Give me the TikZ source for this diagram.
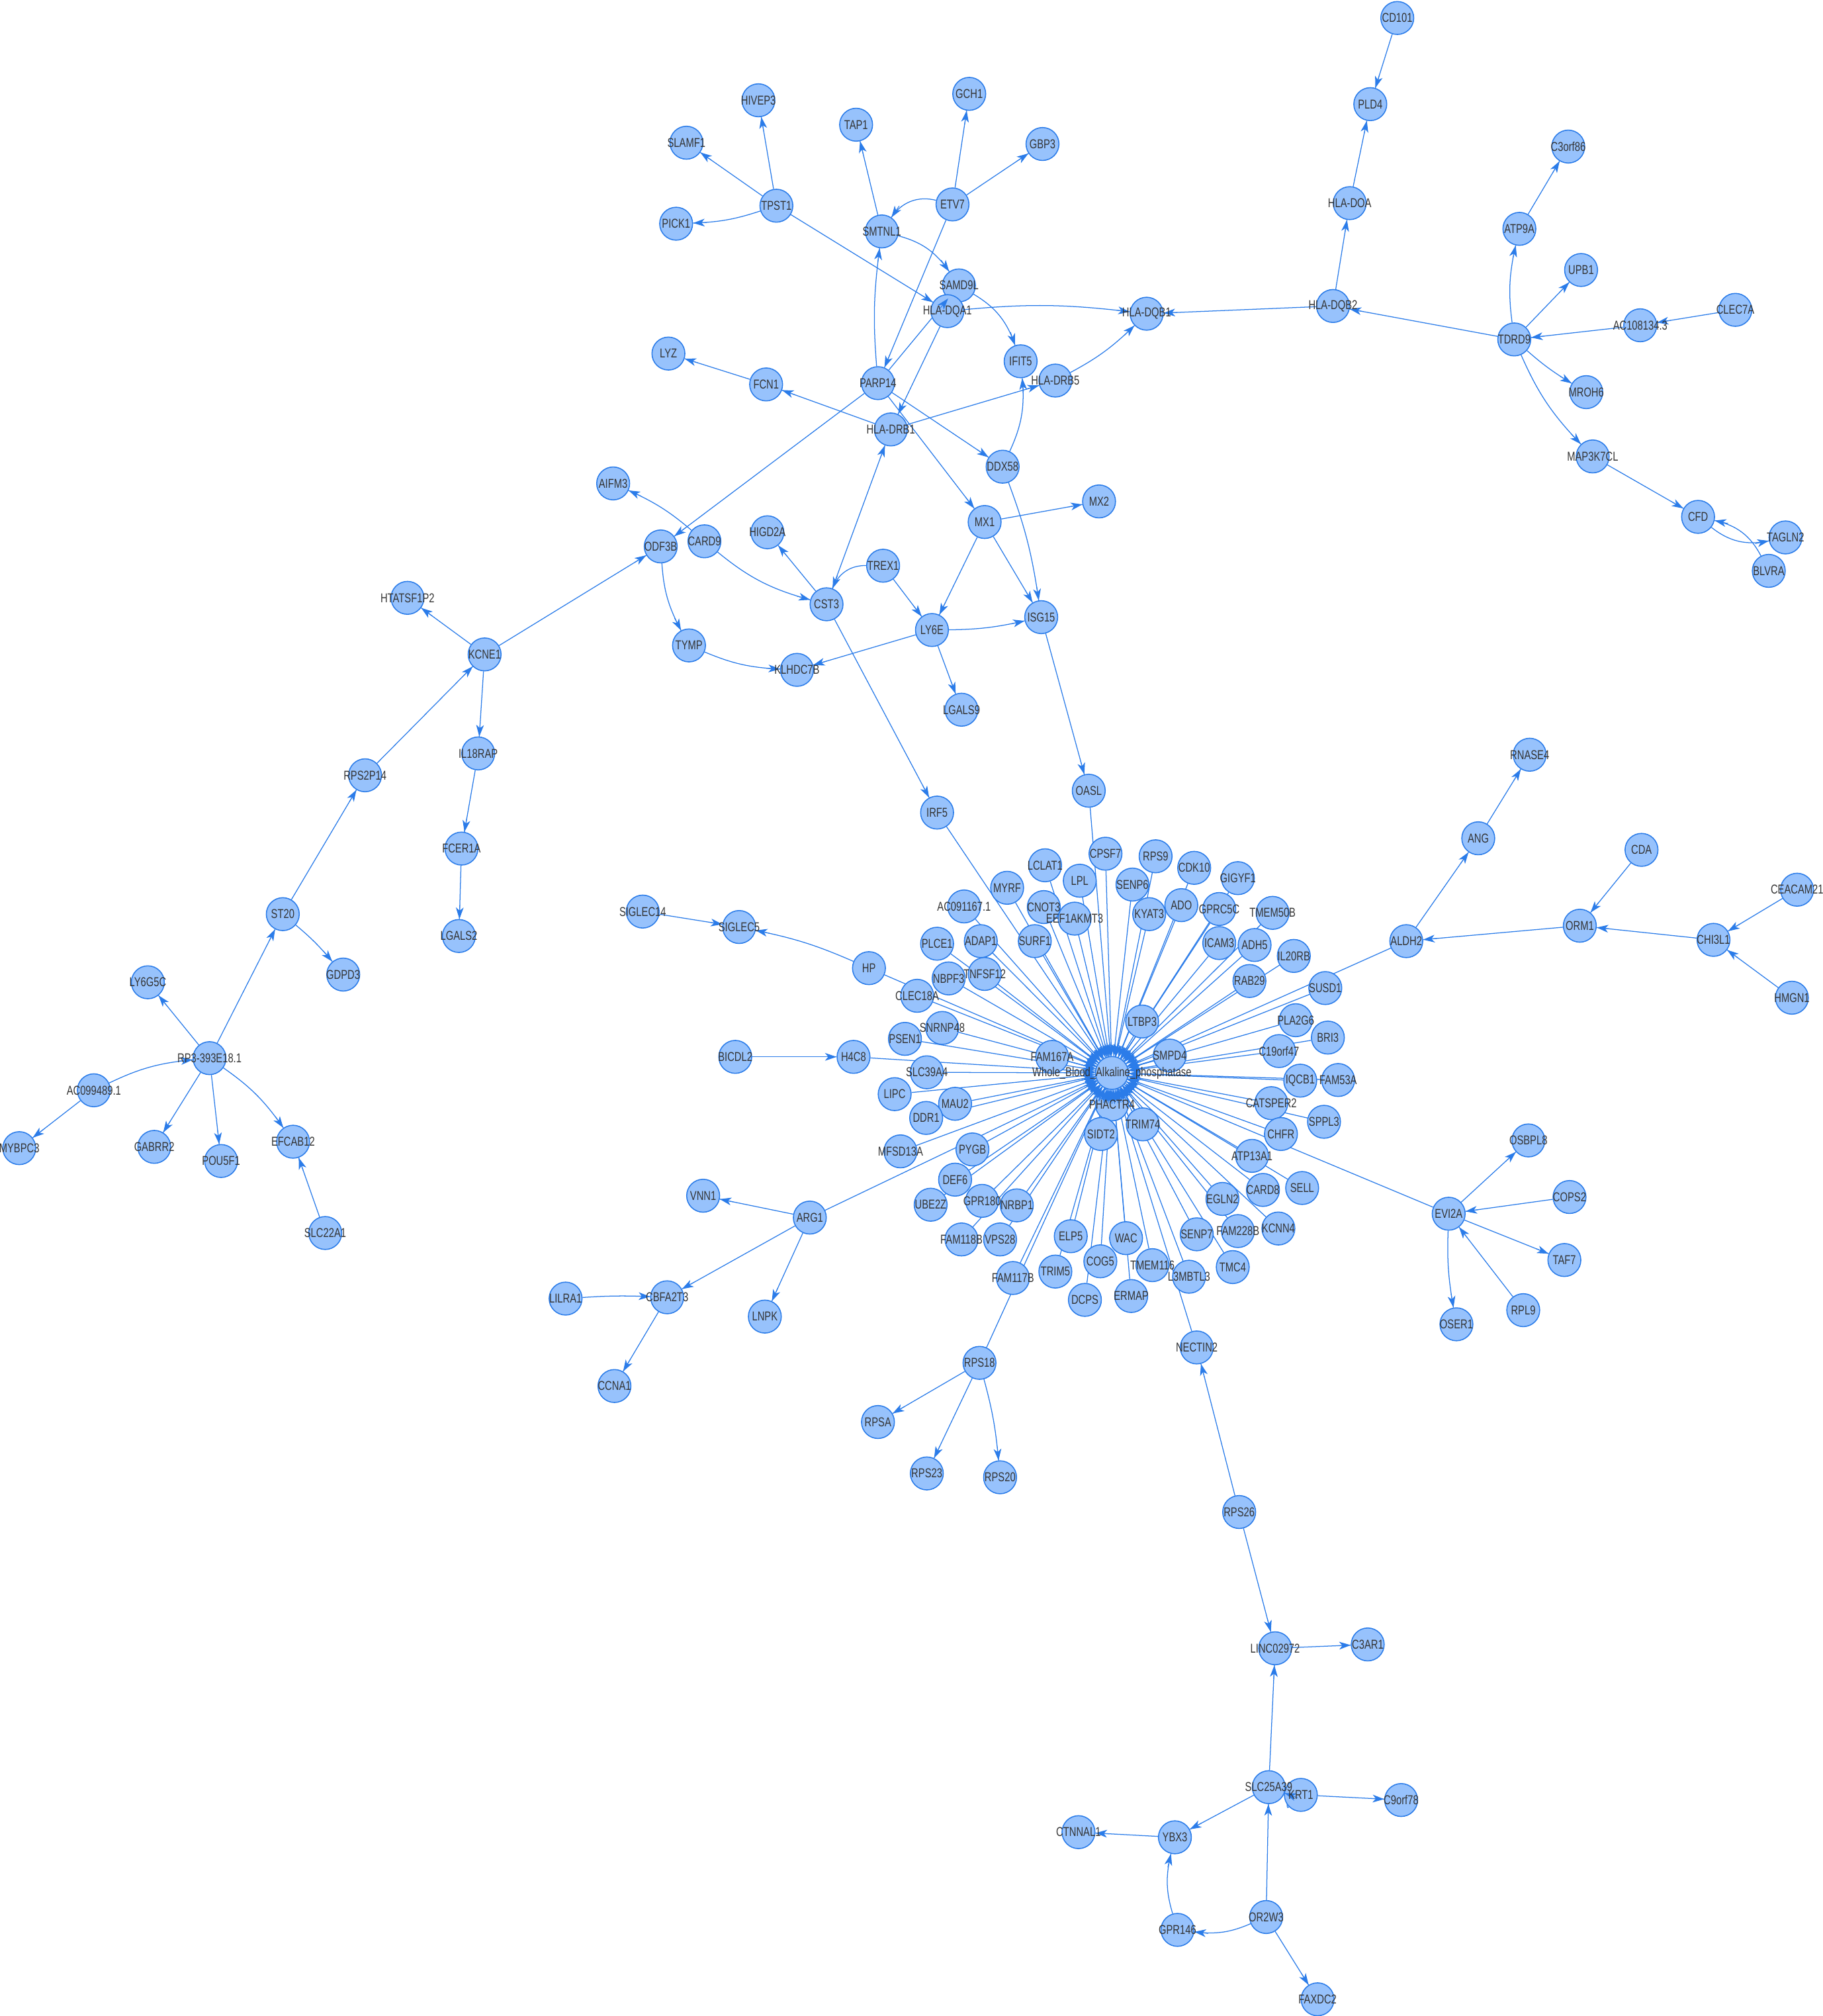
\documentclass[tikz,border=0pt]{standalone}
\usepackage{fontspec}
\setmainfont{Liberation Sans}[FakeStretch=0.76]
\usetikzlibrary{arrows.meta,calc}
\pgfdeclarelayer{background}
\pgfdeclarelayer{arrowlayer}
\pgfdeclarelayer{labellayer}
\pgfsetlayers{background,main,arrowlayer,labellayer}
\definecolor{nfill}{HTML}{97C2FC}
\definecolor{nborder}{HTML}{2B7CE9}
\definecolor{ecol}{HTML}{2B7CE9}
\definecolor{tcol}{HTML}{343434}
\tikzset{
 gnode/.style={circle,draw=nborder,fill=nfill,line width=0.8pt,minimum size=25.6pt,inner sep=0pt},
 glabel/.style={inner sep=0pt,text=tcol,font=\fontsize{10}{12}\selectfont},
 eline/.style={draw=ecol,line width=0.65pt},
 earrow/.style={draw=ecol,fill=ecol,line width=0.5pt,-{Stealth[length=9pt,width=6pt,inset=2.5pt]}},
}
\newcommand{\mynode}[4]{%
 \node[gnode] (#1) at (#2,-#3) {};
 \begin{pgfonlayer}{labellayer}\node[glabel] at (#2,-#3) {#4};\end{pgfonlayer}}
\newcommand{\myedge}[3][]{%
 \begin{pgfonlayer}{background}\draw[eline] (#2) to[#1] coordinate[pos=0.95] (tmpc) (#3);\end{pgfonlayer}
 \begin{pgfonlayer}{arrowlayer}\draw[earrow] ($(#3)!24pt!(tmpc)$) -- (#3);\end{pgfonlayer}}
\begin{document}
\begin{tikzpicture}[x=1pt,y=1pt]
\useasboundingbox (0,0) rectangle (1418,-1568);
% ---- top right
\mynode{CD101}{1087}{14}{CD101}
\mynode{PLD4}{1066}{81}{PLD4}
\mynode{HLADOA}{1050}{158}{HLA-DOA}
\mynode{HLADQB2}{1037}{238}{HLA-DQB2}
\mynode{C3orf86}{1220}{114}{C3orf86}
\mynode{ATP9A}{1182}{178}{ATP9A}
\mynode{UPB1}{1230}{210}{UPB1}
\mynode{TDRD9}{1178}{264}{TDRD9}
\mynode{AC1081343}{1276}{253}{AC108134.3}
\mynode{CLEC7A}{1350}{241}{CLEC7A}
\mynode{MROH6}{1234}{305}{MROH6}
\mynode{MAP3K7CL}{1239}{355}{MAP3K7CL}
\mynode{CFD}{1321}{402}{CFD}
\mynode{TAGLN2}{1389}{418}{TAGLN2}
\mynode{BLVRA}{1376}{444}{BLVRA}
% ---- top middle
\mynode{HLADQB1}{892}{244}{HLA-DQB1}
\mynode{HIVEP3}{590}{78}{HIVEP3}
\mynode{SLAMF1}{534}{111}{SLAMF1}
\mynode{TPST1}{604}{160}{TPST1}
\mynode{PICK1}{526}{174}{PICK1}
\mynode{TAP1}{666}{97}{TAP1}
\mynode{GCH1}{754}{73}{GCH1}
\mynode{GBP3}{811}{112}{GBP3}
\mynode{ETV7}{741}{159}{ETV7}
\mynode{SMTNL1}{686}{180}{SMTNL1}
\mynode{SAMD9L}{746}{222}{SAMD9L}
\mynode{HLADQA1}{737}{242}{HLA-DQA1}
\mynode{IFIT5}{794}{281}{IFIT5}
\mynode{HLADRB5}{821}{296}{HLA-DRB5}
\mynode{LYZ}{520}{275}{LYZ}
\mynode{FCN1}{596}{299}{FCN1}
\mynode{PARP14}{683}{298}{PARP14}
\mynode{HLADRB1}{693}{334}{HLA-DRB1}
\mynode{DDX58}{780}{363}{DDX58}
\mynode{MX2}{855}{390}{MX2}
\mynode{MX1}{766}{406}{MX1}
\mynode{AIFM3}{477}{376}{AIFM3}
\mynode{CARD9}{548}{421}{CARD9}
\mynode{ODF3B}{514}{425}{ODF3B}
\mynode{HIGD2A}{597}{414}{HIGD2A}
\mynode{TREX1}{687}{440}{TREX1}
\mynode{CST3}{643}{470}{CST3}
\mynode{ISG15}{810}{480}{ISG15}
\mynode{LY6E}{725}{490}{LY6E}
\mynode{TYMP}{536}{502}{TYMP}
\mynode{KLHDC7B}{620}{521}{KLHDC7B}
\mynode{LGALS9}{748}{552}{LGALS9}
\mynode{IRF5}{729}{632}{IRF5}
\mynode{OASL}{847}{615}{OASL}
% ---- left
\mynode{HTATSF1P2}{317}{465}{HTATSF1P2}
\mynode{KCNE1}{377}{509}{KCNE1}
\mynode{IL18RAP}{372}{586}{IL18RAP}
\mynode{RPS2P14}{284}{603}{RPS2P14}
\mynode{FCER1A}{359}{660}{FCER1A}
\mynode{LGALS2}{357}{728}{LGALS2}
\mynode{ST20}{220}{711}{ST20}
\mynode{GDPD3}{267}{758}{GDPD3}
\mynode{LY6G5C}{115}{764}{LY6G5C}
\mynode{RP3}{163}{823}{RP3-393E18.1}
\mynode{AC0994891}{73}{848}{AC099489.1}
\mynode{MYBPC3}{15}{893}{MYBPC3}
\mynode{GABRR2}{120}{892}{GABRR2}
\mynode{POU5F1}{172}{903}{POU5F1}
\mynode{EFCAB12}{228}{888}{EFCAB12}
\mynode{SLC22A1}{253}{959}{SLC22A1}
\mynode{SIGLEC14}{500}{709}{SIGLEC14}
\mynode{SIGLEC5}{575}{721}{SIGLEC5}
\mynode{HP}{676}{753}{HP}
\mynode{BICDL2}{572}{822}{BICDL2}
\mynode{H4C8}{664}{822}{H4C8}
\mynode{VNN1}{547}{930}{VNN1}
\mynode{ARG1}{630}{947}{ARG1}
\mynode{LILRA1}{440}{1010}{LILRA1}
\mynode{CBFA2T3}{519}{1009}{CBFA2T3}
\mynode{LNPK}{595}{1024}{LNPK}
\mynode{CCNA1}{478}{1078}{CCNA1}
% ---- bottom
\mynode{RPS18}{762}{1060}{RPS18}
\mynode{NECTIN2}{931}{1048}{NECTIN2}
\mynode{RPSA}{683}{1106}{RPSA}
\mynode{RPS23}{721}{1146}{RPS23}
\mynode{RPS20}{778}{1149}{RPS20}
\mynode{RPS26}{964}{1176}{RPS26}
\mynode{LINC02972}{992}{1282}{LINC02972}
\mynode{C3AR1}{1064}{1279}{C3AR1}
\mynode{SLC25A39}{987}{1390}{SLC25A39}
\mynode{KRT1}{1012}{1396}{KRT1}
\mynode{C9orf78}{1090}{1400}{C9orf78}
\mynode{YBX3}{914}{1429}{YBX3}
\mynode{CTNNAL1}{839}{1425}{CTNNAL1}
\mynode{OR2W3}{985}{1491}{OR2W3}
\mynode{GPR146}{916}{1501}{GPR146}
\mynode{FAXDC2}{1025}{1555}{FAXDC2}
% ---- right
\mynode{RNASE4}{1190}{587}{RNASE4}
\mynode{ANG}{1150}{652}{ANG}
\mynode{CDA}{1277}{661}{CDA}
\mynode{CEACAM21}{1398}{692}{CEACAM21}
\mynode{ORM1}{1229}{720}{ORM1}
\mynode{ALDH2}{1094}{732}{ALDH2}
\mynode{CHI3L1}{1333}{731}{CHI3L1}
\mynode{HMGN1}{1394}{776}{HMGN1}
\mynode{OSBPL8}{1189}{887}{OSBPL8}
\mynode{COPS2}{1221}{931}{COPS2}
\mynode{EVI2A}{1127}{944}{EVI2A}
\mynode{TAF7}{1217}{980}{TAF7}
\mynode{RPL9}{1185}{1019}{RPL9}
\mynode{OSER1}{1133}{1030}{OSER1}
% ---- hub cluster
\mynode{CPSF7}{860}{664}{CPSF7}
\mynode{RPS9}{899}{666}{RPS9}
\mynode{LCLAT1}{813}{673}{LCLAT1}
\mynode{CDK10}{929}{675}{CDK10}
\mynode{GIGYF1}{963}{683}{GIGYF1}
\mynode{LPL}{840}{685}{LPL}
\mynode{SENP6}{881}{688}{SENP6}
\mynode{MYRF}{783.5}{690.5}{MYRF}
\mynode{ADO}{919}{704}{ADO}
\mynode{AC0911671}{750}{705}{AC091167.1}
\mynode{CNOT3}{812}{705.5}{CNOT3}
\mynode{GPRC5C}{948.5}{707}{GPRC5C}
\mynode{TMEM50B}{990}{710}{TMEM50B}
\mynode{EEF1AKMT3}{836}{714.5}{EEF1AKMT3}
\mynode{KYAT3}{894}{711}{KYAT3}
\mynode{SURF1}{805}{732}{SURF1}
\mynode{ADAP1}{763}{732}{ADAP1}
\mynode{PLCE1}{729}{734}{PLCE1}
\mynode{ICAM3}{948.5}{733.5}{ICAM3}
\mynode{ADH5}{976}{735}{ADH5}
\mynode{IL20RB}{1006.5}{743.5}{IL20RB}
\mynode{TNFSF12}{766}{757.5}{TNFSF12}
\mynode{NBPF3}{738}{761}{NBPF3}
\mynode{RAB29}{972}{763}{RAB29}
\mynode{SUSD1}{1031}{768.5}{SUSD1}
\mynode{CLEC18A}{713.5}{774.5}{CLEC18A}
\mynode{LTBP3}{888.5}{794.5}{LTBP3}
\mynode{PLA2G6}{1008}{793.5}{PLA2G6}
\mynode{BRI3}{1033}{807}{BRI3}
\mynode{SNRNP48}{733}{799.5}{SNRNP48}
\mynode{PSEN1}{704}{808}{PSEN1}
\mynode{SMPD4}{910}{821}{SMPD4}
\mynode{FAM167A}{818.5}{822}{FAM167A}
\mynode{C19orf47}{995}{817.5}{C19orf47}
\mynode{SLC39A4}{721}{834}{SLC39A4}
\mynode{IQCB1}{1011.5}{840.5}{IQCB1}
\mynode{FAM53A}{1041}{840}{FAM53A}
\mynode{LIPC}{696}{851}{LIPC}
\mynode{PHACTR4}{865}{859}{PHACTR4}
\mynode{MAU2}{743}{858.5}{MAU2}
\mynode{CATSPER2}{989}{858}{CATSPER2}
\mynode{DDR1}{720.5}{869.5}{DDR1}
\mynode{SPPL3}{1030}{872.5}{SPPL3}
\mynode{TRIM74}{889}{874.5}{TRIM74}
\mynode{SIDT2}{856.5}{882}{SIDT2}
\mynode{CHFR}{996.5}{882}{CHFR}
\mynode{MFSD13A}{700.5}{895.5}{MFSD13A}
\mynode{PYGB}{756.5}{894}{PYGB}
\mynode{ATP13A1}{974}{899}{ATP13A1}
\mynode{DEF6}{743}{917.5}{DEF6}
\mynode{SELL}{1013}{924}{SELL}
\mynode{CARD8}{982.5}{925.5}{CARD8}
\mynode{EGLN2}{951}{932.5}{EGLN2}
\mynode{GPR180}{764}{934}{GPR180}
\mynode{UBE2Z}{724}{937}{UBE2Z}
\mynode{NRBP1}{791}{937.5}{NRBP1}
\mynode{KCNN4}{994.5}{955.5}{KCNN4}
\mynode{FAM228B}{963}{957.5}{FAM228B}
\mynode{SENP7}{931}{960}{SENP7}
\mynode{ELP5}{833}{961.5}{ELP5}
\mynode{WAC}{876}{963}{WAC}
\mynode{FAM118B}{748}{964}{FAM118B}
\mynode{VPS28}{778}{964}{VPS28}
\mynode{COG5}{856}{981}{COG5}
\mynode{TMEM116}{896.5}{984}{TMEM116}
\mynode{TMC4}{959}{985.5}{TMC4}
\mynode{TRIM5}{821}{989}{TRIM5}
\mynode{L3MBTL3}{925}{993}{L3MBTL3}
\mynode{FAM117B}{788}{994}{FAM117B}
\mynode{DCPS}{844}{1011}{DCPS}
\mynode{ERMAP}{880}{1008}{ERMAP}
\mynode{hub}{865}{834.5}{Whole\_Blood\_Alkaline\_phosphatase}
% ---- hub edges
\foreach \s in {CPSF7,RPS9,LCLAT1,CDK10,GIGYF1,LPL,SENP6,MYRF,ADO,AC0911671,CNOT3,GPRC5C,TMEM50B,EEF1AKMT3,KYAT3,SURF1,ADAP1,PLCE1,ICAM3,ADH5,IL20RB,TNFSF12,NBPF3,RAB29,SUSD1,CLEC18A,LTBP3,PLA2G6,BRI3,SNRNP48,PSEN1,SMPD4,FAM167A,C19orf47,SLC39A4,IQCB1,FAM53A,LIPC,PHACTR4,MAU2,CATSPER2,DDR1,SPPL3,TRIM74,SIDT2,CHFR,MFSD13A,PYGB,ATP13A1,DEF6,SELL,CARD8,EGLN2,GPR180,UBE2Z,NRBP1,KCNN4,FAM228B,SENP7,ELP5,WAC,FAM118B,VPS28,COG5,TMEM116,TMC4,TRIM5,L3MBTL3,FAM117B,DCPS,ERMAP,IRF5,OASL,HP,H4C8,ARG1,RPS18,NECTIN2,ALDH2,EVI2A}{\myedge{\s}{hub}}
% ---- other edges
\myedge{CD101}{PLD4}
\myedge{HLADOA}{PLD4}
\myedge{HLADQB2}{HLADOA}
\myedge{TDRD9}{HLADQB2}
\myedge{HLADQB2}{HLADQB1}
\myedge[bend left=10]{TDRD9}{ATP9A}
\myedge{ATP9A}{C3orf86}
\myedge{TDRD9}{UPB1}
\myedge{AC1081343}{TDRD9}
\myedge{CLEC7A}{AC1081343}
\myedge[bend right=5]{TDRD9}{MROH6}
\myedge[bend right=10]{TDRD9}{MAP3K7CL}
\myedge{MAP3K7CL}{CFD}
\myedge[bend right=25]{CFD}{TAGLN2}
\myedge[bend right=25]{BLVRA}{CFD}
\myedge{TPST1}{HIVEP3}
\myedge{TPST1}{SLAMF1}
\myedge[bend left=8]{TPST1}{PICK1}
\myedge{TPST1}{HLADQA1}
\myedge{SMTNL1}{TAP1}
\myedge{ETV7}{GCH1}
\myedge{ETV7}{GBP3}
\myedge[bend right=35]{ETV7}{SMTNL1}
\myedge{ETV7}{PARP14}
\myedge[bend left=20]{SMTNL1}{SAMD9L}
\myedge[bend left=6]{PARP14}{SMTNL1}
\myedge{PARP14}{SAMD9L}
\myedge[bend left=20]{SAMD9L}{IFIT5}
\myedge[bend left=6]{HLADQA1}{HLADQB1}
\myedge{HLADQA1}{HLADRB1}
\myedge{HLADRB1}{FCN1}
\myedge{FCN1}{LYZ}
\myedge{HLADRB1}{HLADRB5}
\myedge[bend right=8]{HLADRB5}{HLADQB1}
\myedge[bend right=15]{DDX58}{IFIT5}
\myedge{PARP14}{DDX58}
\myedge{PARP14}{MX1}
\myedge{MX1}{MX2}
\myedge{MX1}{LY6E}
\myedge{MX1}{ISG15}
\myedge[bend left=6]{DDX58}{ISG15}
\myedge[bend right=6]{LY6E}{ISG15}
\myedge{ISG15}{OASL}
\myedge{TREX1}{LY6E}
\myedge[bend right=35]{TREX1}{CST3}
\myedge{LY6E}{KLHDC7B}
\myedge{LY6E}{LGALS9}
\myedge{CST3}{HLADRB1}
\myedge{CST3}{HIGD2A}
\myedge{CST3}{IRF5}
\myedge[bend right=12]{CARD9}{CST3}
\myedge[bend right=8]{CARD9}{AIFM3}
\myedge{PARP14}{ODF3B}
\myedge{KCNE1}{ODF3B}
\myedge[bend right=12]{ODF3B}{TYMP}
\myedge[bend right=10]{TYMP}{KLHDC7B}
\myedge{KCNE1}{HTATSF1P2}
\myedge{KCNE1}{IL18RAP}
\myedge{IL18RAP}{FCER1A}
\myedge{FCER1A}{LGALS2}
\myedge{RPS2P14}{KCNE1}
\myedge{ST20}{RPS2P14}
\myedge[bend left=5]{ST20}{GDPD3}
\myedge{RP3}{ST20}
\myedge{RP3}{LY6G5C}
\myedge[bend left=10]{AC0994891}{RP3}
\myedge{AC0994891}{MYBPC3}
\myedge{RP3}{GABRR2}
\myedge{RP3}{POU5F1}
\myedge[bend left=10]{RP3}{EFCAB12}
\myedge{SLC22A1}{EFCAB12}
\myedge{SIGLEC14}{SIGLEC5}
\myedge[bend right=6]{HP}{SIGLEC5}
\myedge{BICDL2}{H4C8}
\myedge{ARG1}{VNN1}
\myedge{ARG1}{CBFA2T3}
\myedge{ARG1}{LNPK}
\myedge[bend left=3]{LILRA1}{CBFA2T3}
\myedge{CBFA2T3}{CCNA1}
\myedge{RPS18}{RPSA}
\myedge{RPS18}{RPS23}
\myedge[bend left=5]{RPS18}{RPS20}
\myedge{RPS26}{NECTIN2}
\myedge{RPS26}{LINC02972}
\myedge{LINC02972}{C3AR1}
\myedge{SLC25A39}{LINC02972}
\myedge[out=225,in=-20]{KRT1}{SLC25A39}
\myedge{KRT1}{C9orf78}
\myedge{SLC25A39}{YBX3}
\myedge{YBX3}{CTNNAL1}
\myedge[bend left=15]{GPR146}{YBX3}
\myedge[bend left=15]{OR2W3}{GPR146}
\myedge{OR2W3}{SLC25A39}
\myedge{OR2W3}{FAXDC2}
\myedge{ALDH2}{ANG}
\myedge{ANG}{RNASE4}
\myedge{ORM1}{ALDH2}
\myedge{CDA}{ORM1}
\myedge{CHI3L1}{ORM1}
\myedge{CEACAM21}{CHI3L1}
\myedge{HMGN1}{CHI3L1}
\myedge{EVI2A}{OSBPL8}
\myedge{COPS2}{EVI2A}
\myedge{EVI2A}{TAF7}
\myedge{RPL9}{EVI2A}
\myedge[bend right=6]{EVI2A}{OSER1}
\end{tikzpicture}
\end{document}
